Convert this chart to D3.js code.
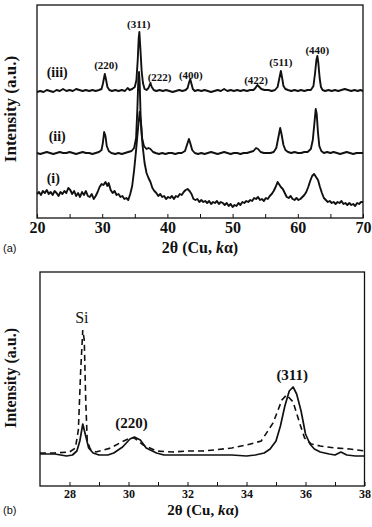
<!DOCTYPE html>
<html>
<head>
<meta charset="utf-8">
<script src="https://cdn.jsdelivr.net/npm/d3@7"></script>
<style>
  body { margin: 0; background: #ffffff; }
</style>
</head>
<body>
<div id="chart"></div>
<script>
// panel (a): three patterns, [2theta, intensity a.u.]
var traceIII = [[20,126],[20.5,127],[21,126],[21.5,128],[22,127],[22.5,126],[23,128],[23.5,127],[24,129],[24.5,127],[25,128],[25.5,127],[26,129],[26.5,128],[27,127],[27.5,128],[28,127],[28.5,128],[29,127],[29.5,128],[29.9,129],[30.1,134],[30.4,144],[30.6,138],[30.8,131],[31.1,128],[31.5,127],[32,128],[32.5,127],[33,128],[33.5,127],[33.9,130],[34.2,128],[34.6,129],[35,131],[35.25,138],[35.45,158],[35.6,180],[35.7,186],[35.85,170],[36.05,147],[36.25,135],[36.5,129],[36.8,128],[37.1,130],[37.4,135],[37.6,131],[37.9,128],[38.3,127],[38.8,128],[39.3,127],[39.8,128],[40.3,127],[40.8,126],[41.3,127],[41.8,128],[42.3,127],[42.8,128],[43.1,130],[43.3,135],[43.5,139],[43.7,134],[43.9,129],[44.2,127],[44.7,128],[45.2,127],[45.7,128],[46.2,127],[46.7,126],[47.2,127],[47.7,128],[48.2,127],[48.7,129],[49.2,127],[49.7,128],[50.2,127],[50.7,128],[51.2,127],[51.7,128],[52.2,127],[52.7,128],[53.2,128],[53.5,130],[53.8,133],[54.1,131],[54.4,129],[54.9,128],[55.5,128],[56,127],[56.5,128],[56.9,131],[57.15,139],[57.4,147],[57.6,140],[57.8,132],[58.1,129],[58.5,128],[59,127],[59.5,128],[60,127],[60.5,128],[61,127],[61.5,128],[62,128],[62.4,132],[62.65,145],[62.85,158],[63,162],[63.15,155],[63.35,140],[63.55,131],[63.8,128],[64.2,127],[64.7,128],[65.2,127],[65.7,128],[66.2,127],[66.7,128],[67.2,129],[67.7,128],[68.2,127],[68.7,128],[69.2,127],[69.6,128],[70,127]];

var traceII = [[20,65],[20.5,64],[21,65],[21.5,66],[22,65],[22.5,64],[23,65],[23.5,66],[24,65],[24.5,65],[25,66],[25.5,65],[26,64],[26.5,65],[27,66],[27.5,65],[28,65],[28.5,64],[29,65],[29.5,66],[29.9,68],[30.1,75],[30.3,86],[30.5,82],[30.7,72],[31,67],[31.4,65],[32,64],[32.5,65],[33,64],[33.5,65],[34,66],[34.5,67],[34.9,70],[35.2,80],[35.4,110],[35.55,140],[35.65,146],[35.75,135],[35.9,100],[36.1,80],[36.4,72],[36.8,69],[37.1,70],[37.4,69],[37.8,66],[38.2,65],[38.7,64],[39.2,65],[39.7,64],[40.2,65],[40.7,65],[41.2,64],[41.7,65],[42.2,65],[42.7,67],[43,73],[43.3,79],[43.5,75],[43.8,68],[44.2,65],[44.7,64],[45.2,65],[45.7,64],[46.2,65],[46.7,66],[47.2,65],[47.7,64],[48.2,65],[48.7,66],[49.2,65],[49.7,64],[50.2,65],[50.7,65],[51.2,64],[51.7,65],[52.2,65],[52.7,66],[53.2,67],[53.6,70],[53.9,69],[54.3,66],[54.8,65],[55.3,65],[55.8,65],[56.3,66],[56.7,70],[57,80],[57.3,90],[57.5,84],[57.8,73],[58.1,68],[58.5,66],[59,65],[59.5,66],[60,65],[60.5,65],[61,66],[61.5,66],[62,69],[62.3,78],[62.55,95],[62.75,109],[62.9,104],[63.1,85],[63.3,72],[63.6,67],[64,65],[64.5,66],[65,65],[65.5,66],[66,65],[66.5,64],[67,65],[67.5,66],[68,65],[68.5,64],[69,65],[69.5,65],[70,65]];

var traceI = [[20,24],[20.3,26],[20.6,23],[20.9,27],[21.2,25],[21.5,28],[21.8,24],[22.1,26],[22.4,23],[22.7,27],[23,25],[23.3,22],[23.6,26],[23.9,24],[24.2,27],[24.5,25],[24.8,30],[25.1,28],[25.4,24],[25.7,27],[26,22],[26.3,25],[26.6,21],[26.9,26],[27.2,23],[27.5,27],[27.8,22],[28.1,21],[28.4,24],[28.7,19],[29,22],[29.3,26],[29.6,31],[29.9,34],[30.2,33],[30.5,36],[30.8,32],[31,35],[31.3,28],[31.6,25],[31.9,27],[32.2,23],[32.5,24],[32.8,21],[33.1,22],[33.4,19],[33.7,20],[34,18],[34.3,24],[34.6,32],[34.9,48],[35.2,68],[35.5,90],[35.75,106],[35.95,95],[36.2,72],[36.5,55],[36.8,45],[37.1,40],[37.4,36],[37.7,30],[38,27],[38.3,25],[38.6,22],[38.9,24],[39.2,21],[39.5,22],[39.8,19],[40.1,21],[40.4,20],[40.7,22],[41,19],[41.3,22],[41.6,21],[41.9,24],[42.2,23],[42.5,26],[42.8,28],[43.1,29],[43.4,27],[43.7,24],[44,19],[44.3,18],[44.6,19],[44.9,16],[45.2,18],[45.5,16],[45.8,17],[46.1,15],[46.4,17],[46.7,14],[47,16],[47.3,15],[47.6,17],[47.9,14],[48.2,16],[48.5,15],[48.8,13],[49.1,15],[49.4,12],[49.7,14],[50,11],[50.3,13],[50.6,12],[50.9,15],[51.2,13],[51.5,16],[51.8,15],[52.1,17],[52.4,16],[52.7,18],[53,17],[53.3,20],[53.6,19],[53.9,21],[54.2,18],[54.5,19],[54.8,17],[55.1,20],[55.4,19],[55.7,22],[56,24],[56.3,27],[56.6,31],[56.9,36],[57.1,34],[57.4,31],[57.7,29],[58,25],[58.3,21],[58.6,20],[58.9,22],[59.2,19],[59.5,18],[59.8,20],[60.1,18],[60.4,19],[60.7,21],[61,23],[61.3,26],[61.6,31],[61.9,37],[62.2,42],[62.5,44],[62.8,41],[63.1,38],[63.4,31],[63.7,25],[64,20],[64.3,18],[64.6,16],[64.9,17],[65.2,15],[65.5,16],[65.8,14],[66.1,16],[66.4,15],[66.7,17],[67,14],[67.3,15],[67.6,13],[67.9,15],[68.2,13],[68.5,14],[68.8,12],[69.1,15],[69.4,14],[69.7,16],[70,16]];

// panel (b): solid and dashed patterns
var solidB = [[27,32],[27.5,32],[27.9,30],[28.1,31],[28.25,35],[28.35,45],[28.45,62],[28.55,50],[28.65,38],[28.8,33],[29,31],[29.3,31],[29.5,33],[29.8,39],[30.05,47],[30.2,49],[30.4,46],[30.6,38],[30.95,33],[31.2,31],[31.6,31],[32,31],[32.5,31],[33,31],[33.5,31],[34,30],[34.3,31],[34.6,33],[34.8,37],[35,45],[35.15,60],[35.3,80],[35.45,95],[35.58,99],[35.7,92],[35.85,75],[36,52],[36.15,42],[36.3,37],[36.5,34],[36.8,32],[37,31],[37.2,34],[37.4,31],[37.7,30],[38,30]];

var dashedB = [[27,33],[27.5,33],[28,34],[28.2,38],[28.3,56],[28.38,116],[28.45,156],[28.5,146],[28.55,86],[28.6,46],[28.7,37],[28.9,34],[29.4,38],[29.7,43],[30.05,48],[30.2,48],[30.5,41],[30.95,35],[31.5,34],[32,35],[32.5,35],[32.9,36],[33.5,38],[34,41],[34.5,45],[34.9,63],[35.2,86],[35.36,91],[35.58,84],[35.8,63],[35.97,48],[36.2,42],[36.5,40],[37,38],[37.5,37],[38,35]];

// peak labels
var labelsA = [["(311)",35.6,28],["(220)",30.6,69],["(222)",38.8,81],["(400)",43.6,79],["(422)",53.6,84],["(511)",57.4,66],["(440)",63.0,54]];
var seriesA = [["(iii)",23.1,77],["(ii)",23.1,141],["(i)",22.5,183]];
var labelsB = [["(220)",30.1,428],["(311)",35.55,380]];

var font = "Liberation Serif";
var ink = "#111111";

var svg = d3.select("#chart")
  .append("svg")
  .attr("width", 372)
  .attr("height", 527);

// ---------- panel (a) ----------
var xA = d3.scaleLinear().domain([20, 70]).range([37, 363]);
var yA = d3.scaleLinear().domain([0, 213]).range([218, 5]);

var lineA = d3.line()
  .x(d => xA(d[0]))
  .y(d => yA(d[1]));

[traceIII, traceII, traceI].forEach(function(t) {
  svg.append("path")
    .datum(t)
    .attr("d", lineA)
    .style("fill", "none")
    .style("stroke", ink)
    .style("stroke-width", 1.9)
    .style("stroke-linejoin", "round");
});

svg.append("rect")
  .attr("x", 37).attr("y", 5)
  .attr("width", 326).attr("height", 213)
  .style("fill", "none")
  .style("stroke", ink)
  .style("stroke-width", 1.3);

var axisA = svg.append("g")
  .attr("transform", "translate(0,218)")
  .call(d3.axisBottom(xA)
    .tickValues(d3.range(20, 71, 5))
    .tickSizeInner(-4)
    .tickSizeOuter(0)
    .tickPadding(4)
    .tickFormat(d => d % 10 === 0 ? d : ""));
axisA.select(".domain").remove();
axisA.selectAll("line").style("stroke", ink);
axisA.selectAll("text")
  .style("font-family", font)
  .style("font-size", "16px")
  .style("font-weight", "bold")
  .style("fill", ink);

labelsA.forEach(function(l) {
  svg.append("text")
    .attr("x", xA(l[1]))
    .attr("y", l[2])
    .style("text-anchor", "middle")
    .style("font-family", font)
    .style("font-size", "11px")
    .style("font-weight", "bold")
    .style("fill", ink)
    .text(l[0]);
});

seriesA.forEach(function(l) {
  svg.append("text")
    .attr("x", xA(l[1]))
    .attr("y", l[2])
    .style("text-anchor", "middle")
    .style("font-family", font)
    .style("font-size", "14px")
    .style("font-weight", "bold")
    .style("fill", ink)
    .text(l[0]);
});

// ---------- panel (b) ----------
var xB = d3.scaleLinear().domain([27, 38]).range([40, 364.5]);
var yB = d3.scaleLinear().domain([0, 214]).range([486, 272]);

var lineB = d3.line()
  .x(d => xB(d[0]))
  .y(d => yB(d[1]));

svg.append("path")
  .datum(dashedB)
  .attr("d", lineB)
  .style("fill", "none")
  .style("stroke", ink)
  .style("stroke-width", 1.6)
  .style("stroke-dasharray", "6,4");

svg.append("path")
  .datum(solidB)
  .attr("d", lineB)
  .style("fill", "none")
  .style("stroke", ink)
  .style("stroke-width", 1.7)
  .style("stroke-linejoin", "round");

svg.append("rect")
  .attr("x", 40).attr("y", 272)
  .attr("width", 324.5).attr("height", 214)
  .style("fill", "none")
  .style("stroke", ink)
  .style("stroke-width", 1.3);

var axisB = svg.append("g")
  .attr("transform", "translate(0,486)")
  .call(d3.axisBottom(xB)
    .tickValues(d3.range(28, 39, 1))
    .tickSizeInner(-4)
    .tickSizeOuter(0)
    .tickPadding(3)
    .tickFormat(d => d % 2 === 0 ? d : ""));
axisB.select(".domain").remove();
axisB.selectAll("line").style("stroke", ink);
axisB.selectAll("text")
  .style("font-family", font)
  .style("font-size", "12px")
  .style("font-weight", "bold")
  .style("fill", ink);

svg.append("text")
  .attr("x", xB(28.42))
  .attr("y", 323)
  .style("text-anchor", "middle")
  .style("font-family", font)
  .style("font-size", "16px")
  .style("fill", ink)
  .text("Si");

labelsB.forEach(function(l) {
  svg.append("text")
    .attr("x", xB(l[1]))
    .attr("y", l[2])
    .style("text-anchor", "middle")
    .style("font-family", font)
    .style("font-size", "15px")
    .style("font-weight", "bold")
    .style("fill", ink)
    .text(l[0]);
});

// ---------- axis titles ----------
function xTitle(cx, cy, size) {
  var t = svg.append("text")
    .attr("x", cx)
    .attr("y", cy)
    .style("text-anchor", "middle")
    .style("font-family", font)
    .style("font-size", size + "px")
    .style("font-weight", "bold")
    .style("fill", ink);
  t.append("tspan").text("2θ (Cu, ");
  t.append("tspan").style("font-style", "italic").text("k");
  t.append("tspan").text("α)");
}
xTitle(200, 253, 16);
xTitle(203, 515, 15);

function yTitle(cy, size) {
  svg.append("text")
    .attr("transform", "translate(16," + cy + ") rotate(-90)")
    .style("text-anchor", "middle")
    .style("font-family", font)
    .style("font-size", size + "px")
    .style("font-weight", "bold")
    .style("fill", ink)
    .text("Intensity (a.u.)");
}
yTitle(109, 17);
yTitle(378, 16);

svg.append("text")
  .attr("x", 3).attr("y", 252)
  .style("font-family", "Liberation Sans")
  .style("font-size", "11px")
  .style("fill", ink)
  .text("(a)");

svg.append("text")
  .attr("x", 3).attr("y", 514)
  .style("font-family", "Liberation Sans")
  .style("font-size", "11px")
  .style("fill", ink)
  .text("(b)");
</script>
</body>
</html>
